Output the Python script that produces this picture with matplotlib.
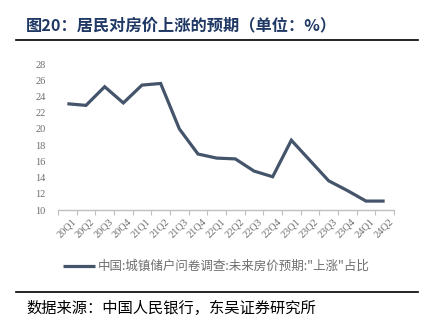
import matplotlib
matplotlib.use("Agg")
import matplotlib.pyplot as plt
from matplotlib.lines import Line2D
from matplotlib.transforms import ScaledTranslation

quarters = ["20Q1", "20Q2", "20Q3", "20Q4", "21Q1", "21Q2", "21Q3", "21Q4",
            "22Q1", "22Q2", "22Q3", "22Q4", "23Q1", "23Q2", "23Q3", "23Q4",
            "24Q1", "24Q2"]
rise_share = [23.1, 22.9, 25.2, 23.2, 25.4, 25.6, 20.0, 16.9,
              16.4, 16.3, 14.8, 14.1, 18.6, 16.1, 13.6, 12.4,
              11.1, 11.1]
y_ticks = [10, 12, 14, 16, 18, 20, 22, 24, 26, 28]
series_name = '中国:城镇储户问卷调查:未来房价预期:"上涨"占比'
title_text = "图20：居民对房价上涨的预期（单位：%）"
source_text = "数据来源：中国人民银行，东吴证券研究所"

W, H = 434, 324
fig = plt.figure(figsize=(W / 100, H / 100), dpi=100)
fig.patch.set_facecolor("white")

cjk = ["Noto Sans CJK SC", "DejaVu Sans"]
serif = ["Liberation Serif", "DejaVu Serif"]
line_color = "#44546A"
tick_gray = "#6E6E6E"
axis_gray = "#BFBFBF"

# plot area in pixel coordinates
left, right, bottom, top = 58, 394, 210, 64
ax = fig.add_axes([left / W, 1 - bottom / H, (right - left) / W, (bottom - top) / H])

x = list(range(len(quarters)))
ax.plot(x, rise_share, color=line_color, lw=2.3, solid_joinstyle="miter",
        solid_capstyle="butt")

ax.set_xlim(-0.5, len(quarters) - 0.5)
ax.set_ylim(10, 28)
ax.set_yticks(y_ticks)
ax.set_yticklabels([str(v) for v in y_ticks], fontfamily=serif, fontsize=7.5,
                   color=tick_gray)
ax.tick_params(axis="y", length=0, pad=9)

# category boundaries carry the tick marks, labels sit at category centres
ax.set_xticks([i - 0.5 for i in range(len(quarters) + 1)])
ax.set_xticklabels([])
ax.tick_params(axis="x", which="major", length=3.5, color=axis_gray, width=0.8,
               direction="out")
ax.set_xticks(x, minor=True)
ax.set_xticklabels(quarters, minor=True, rotation=45, ha="right", va="center",
                   rotation_mode="anchor", fontfamily=serif, fontsize=7.5,
                   color=tick_gray)
ax.tick_params(axis="x", which="minor", length=0, pad=7)
shift = ScaledTranslation(7 / 100, 0, fig.dpi_scale_trans)
for lbl in ax.get_xticklabels(minor=True):
    lbl.set_transform(lbl.get_transform() + shift)

for s in ["top", "right", "left"]:
    ax.spines[s].set_visible(False)
ax.spines["bottom"].set_color(axis_gray)
ax.spines["bottom"].set_linewidth(1.0)

# legend
fig.add_artist(Line2D([63 / W, 95 / W], [1 - 266 / H, 1 - 266 / H],
                      color=line_color, lw=2.3, solid_capstyle="butt"))
fig.text(98 / W, 1 - 266 / H, series_name, fontfamily=cjk, fontsize=9,
         color=tick_gray, ha="left", va="center")

# title and rules
fig.text(26 / W, 1 - 25 / H, title_text, fontfamily=cjk, fontsize=11.7,
         fontweight="bold", color="#1F3864", ha="left", va="center")
fig.add_artist(Line2D([16 / W, 418 / W], [1 - 40 / H, 1 - 40 / H],
                      color="black", lw=1.2))
fig.add_artist(Line2D([16 / W, 418 / W], [1 - 292 / H, 1 - 292 / H],
                      color="black", lw=1.2))
fig.text(26 / W, 1 - 308 / H, source_text, fontfamily=cjk, fontsize=11,
         color="black", ha="left", va="center")

fig.savefig("out.png", dpi=100, facecolor="white")
